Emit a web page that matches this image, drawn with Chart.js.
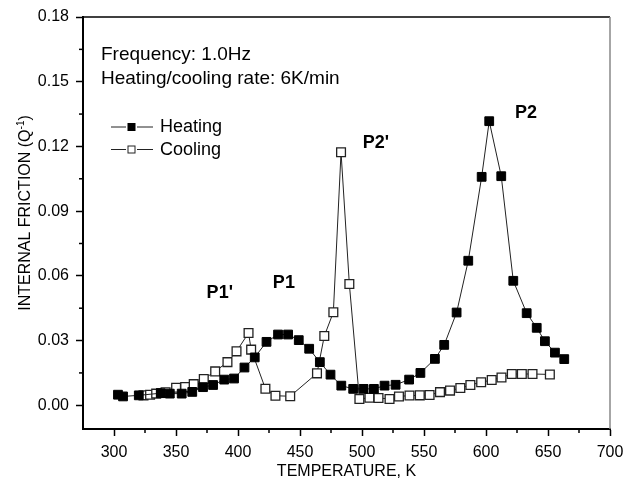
<!DOCTYPE html>
<html>
<head>
<meta charset="utf-8">
<script src="https://cdn.jsdelivr.net/npm/chart.js@4.4.0/dist/chart.umd.min.js"></script>
<style>
    html, body { margin: 0; padding: 0; background: #fff; }
    #wrap { width: 637px; height: 487px; position: relative; }
</style>
</head>
<body>
<div id="wrap"><canvas id="frictionChart"></canvas></div>
<script>
// heating run, filled squares
var heatingT = [303.2, 307.3, 320, 337.7, 345, 354.6, 363.1, 371.8, 379.9, 388.9, 396.8, 405.2, 413.5, 423, 432.3,
    440.4, 449, 457.4, 466, 474.6, 483.3, 492.9, 501.3, 509.6, 518.2, 527.1, 538, 547.1, 558.8, 566.3, 576.3,
    585.7, 596.5, 602.6, 612.3, 622, 632.8, 640.9, 647.5, 655.6, 663.1];
var heatingQ = [0.0049, 0.0041, 0.0046, 0.0056, 0.0054, 0.0054, 0.0062, 0.0084, 0.0094, 0.0119, 0.0124, 0.0175, 0.0222, 0.0294, 0.0328,
    0.0328, 0.0302, 0.0262, 0.0200, 0.0142, 0.0091, 0.0076, 0.0076, 0.0076, 0.0091, 0.0095, 0.0119, 0.0150, 0.0215, 0.0280, 0.0430,
    0.0670, 0.1059, 0.1317, 0.1062, 0.0577, 0.0427, 0.0359, 0.0297, 0.0244, 0.0214];

// cooling run, open squares
var coolingT = [323.8, 329.1, 334, 338, 341.6, 350.1, 357.4, 364.3, 372.4, 381.6, 391.5, 398.8, 408.5, 410.6, 422.1,
    430.2, 442.1, 463.7, 469.6, 476.9, 483.1, 489.8, 497.9, 506, 513.3, 522.2, 529.8, 538.3, 546.6, 554.5,
    562.9, 571, 579.3, 587.4, 596.1, 604.6, 612.5, 620.8, 628.9, 637.5, 651.5];
var coolingQ = [0.0046, 0.0049, 0.0054, 0.0057, 0.0060, 0.0081, 0.0085, 0.0098, 0.0122, 0.0157, 0.0200, 0.0250, 0.0335, 0.0258, 0.0077,
    0.0044, 0.0042, 0.0148, 0.0321, 0.0431, 0.1173, 0.0562, 0.0029, 0.0035, 0.0034, 0.0029, 0.0041, 0.0045, 0.0046, 0.0048,
    0.0061, 0.0068, 0.0080, 0.0094, 0.0107, 0.0117, 0.0129, 0.0145, 0.0145, 0.0145, 0.0143];

var xTicks = [300, 350, 400, 450, 500, 550, 600, 650, 700];
var xMinor = [325, 375, 425, 475, 525, 575, 625, 675];
var yTicks = [0, 0.03, 0.06, 0.09, 0.12, 0.15, 0.18];
var yMinor = [0.015, 0.045, 0.075, 0.105, 0.135, 0.165];

var peakNames = ["P1'", 'P1', "P2'", 'P2'];

// where the peak names sit (data units)
var peakSpots = [[385.3, 0.0497], [437, 0.0543], [511.2, 0.1191], [632.3, 0.133]];

var FONT = "'Liberation Sans', Arial, sans-serif";

function toPoints(xs, ys) {
    return xs.map(function (x, i) { return { x: x, y: ys[i] }; });
}

var extras = {
    id: 'extras',
    afterDraw: function (chart) {
        var ctx = chart.ctx;
        var area = chart.chartArea;
        var xs = chart.scales.x, ys = chart.scales.y;
        ctx.save();

        // top + right frame
        ctx.lineWidth = 1.5;
        ctx.strokeStyle = '#000';
        ctx.beginPath();
        ctx.moveTo(area.left, area.top);
        ctx.lineTo(area.right, area.top);
        ctx.stroke();
        ctx.strokeStyle = '#888';
        ctx.beginPath();
        ctx.moveTo(area.right, area.top);
        ctx.lineTo(area.right, area.bottom);
        ctx.stroke();

        // minor ticks
        ctx.strokeStyle = '#000';
        ctx.lineWidth = 1.5;
        xMinor.forEach(function (v) {
            var px = xs.getPixelForValue(v);
            ctx.beginPath();
            ctx.moveTo(px, area.bottom);
            ctx.lineTo(px, area.bottom + 4);
            ctx.stroke();
        });
        yMinor.forEach(function (v) {
            var py = ys.getPixelForValue(v);
            ctx.beginPath();
            ctx.moveTo(area.left, py);
            ctx.lineTo(area.left - 4, py);
            ctx.stroke();
        });

        ctx.fillStyle = '#000';

        // x title
        ctx.font = '16px ' + FONT;
        ctx.textAlign = 'center';
        ctx.textBaseline = 'middle';
        ctx.fillText('TEMPERATURE, K', (area.left + area.right) / 2, 472);

        // y title with superscript
        ctx.save();
        ctx.translate(26, 213);
        ctx.rotate(-Math.PI / 2);
        var main = 'INTERNAL FRICTION (Q';
        ctx.font = '16px ' + FONT;
        var w1 = ctx.measureText(main).width;
        var w3 = ctx.measureText(')').width;
        ctx.font = '10px ' + FONT;
        var w2 = ctx.measureText('-1').width;
        var start = -(w1 + w2 + w3) / 2;
        ctx.textAlign = 'left';
        ctx.font = '16px ' + FONT;
        ctx.fillText(main, start, 0);
        ctx.font = '10px ' + FONT;
        ctx.fillText('-1', start + w1, -5);
        ctx.font = '16px ' + FONT;
        ctx.fillText(')', start + w1 + w2, 0);
        ctx.restore();

        // info text
        ctx.textAlign = 'left';
        ctx.textBaseline = 'alphabetic';
        ctx.font = '19px ' + FONT;
        ctx.fillText('Frequency: 1.0Hz', 101, 60);
        ctx.fillText('Heating/cooling rate: 6K/min', 101, 83.5);

        // legend
        chart.data.datasets.forEach(function (ds, i) {
            var ly = 127 + i * 22.5;
            ctx.strokeStyle = '#222';
            ctx.lineWidth = 1;
            ctx.beginPath();
            ctx.moveTo(111, ly); ctx.lineTo(126, ly);
            ctx.moveTo(137, ly); ctx.lineTo(153, ly);
            ctx.stroke();
            ctx.fillStyle = ds.pointBackgroundColor;
            ctx.fillRect(128, ly - 3.5, 7, 7);
            ctx.strokeStyle = ds.pointBorderColor;
            ctx.strokeRect(128, ly - 3.5, 7, 7);
            ctx.fillStyle = '#000';
            ctx.font = '18px ' + FONT;
            ctx.textBaseline = 'middle';
            ctx.fillText(ds.label, 160, ly + 0.5);
        });

        // peak names
        ctx.font = 'bold 18px ' + FONT;
        ctx.textAlign = 'center';
        ctx.textBaseline = 'alphabetic';
        peakNames.forEach(function (name, i) {
            ctx.fillText(name, xs.getPixelForValue(peakSpots[i][0]), ys.getPixelForValue(peakSpots[i][1]));
        });

        ctx.restore();
    }
};

var ctx = document.getElementById('frictionChart').getContext('2d');
var frictionChart = new Chart(ctx, {
    type: 'scatter',
    data: {
        datasets: [{
            label: 'Heating',
            data: toPoints(heatingT, heatingQ),
            showLine: true,
            borderColor: '#222',
            borderWidth: 1,
            pointStyle: 'rect',
            pointRadius: 6.2,
            pointBackgroundColor: '#000',
            pointBorderColor: '#000',
            pointBorderWidth: 1
        }, {
            label: 'Cooling',
            data: toPoints(coolingT, coolingQ),
            showLine: true,
            borderColor: '#222',
            borderWidth: 1,
            pointStyle: 'rect',
            pointRadius: 6.2,
            pointBackgroundColor: '#fff',
            pointBorderColor: '#222',
            pointBorderWidth: 1.3
        }]
    },
    options: {
        responsive: true,
        maintainAspectRatio: false,
        animation: false,
        layout: { padding: { left: 0, right: 27, top: 17, bottom: 0 } },
        plugins: {
            legend: { display: false },
            tooltip: { enabled: false }
        },
        scales: {
            x: {
                type: 'linear',
                min: 275,
                max: 700,
                afterBuildTicks: function (scale) {
                    scale.ticks = xTicks.map(function (v) { return { value: v }; });
                },
                afterFit: function (scale) { scale.height = 58; },
                ticks: {
                    color: '#000',
                    font: { family: FONT, size: 16 },
                    padding: 7,
                    maxRotation: 0
                },
                grid: {
                    drawOnChartArea: false,
                    drawTicks: true,
                    tickLength: 7,
                    tickWidth: 1.5,
                    tickColor: '#000'
                },
                border: { color: '#000', width: 2 }
            },
            y: {
                type: 'linear',
                min: -0.011,
                max: 0.18,
                afterBuildTicks: function (scale) {
                    scale.ticks = yTicks.map(function (v) { return { value: v }; });
                },
                afterFit: function (scale) { scale.width = 83; },
                ticks: {
                    color: '#000',
                    font: { family: FONT, size: 16 },
                    padding: 7,
                    callback: function (v) { return v.toFixed(2); }
                },
                grid: {
                    drawOnChartArea: false,
                    drawTicks: true,
                    tickLength: 7,
                    tickWidth: 1.5,
                    tickColor: '#000'
                },
                border: { color: '#000', width: 2 }
            }
        }
    },
    plugins: [extras]
});
</script>
</body>
</html>
